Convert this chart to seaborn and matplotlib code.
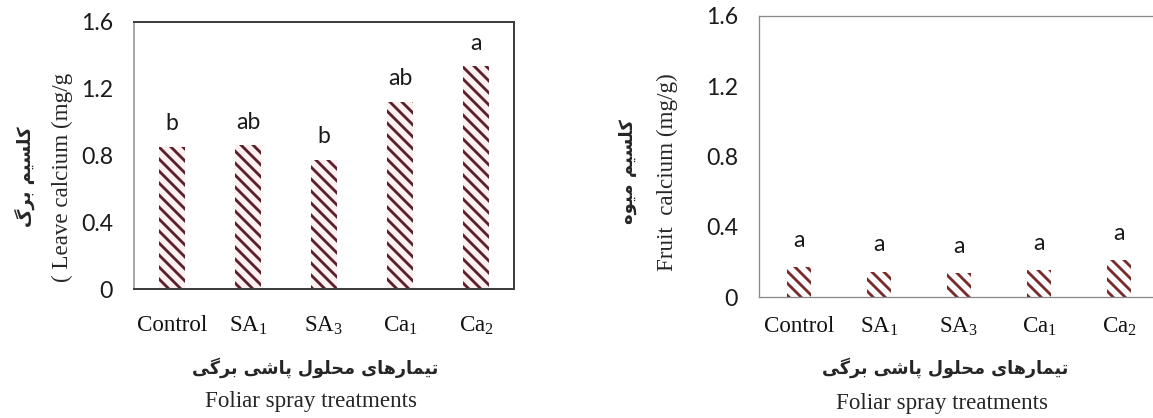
# Leaf and fruit calcium under foliar spray treatments (two bar panels)
import matplotlib
matplotlib.use("Agg")
import matplotlib.pyplot as plt
import seaborn as sns
import pandas as pd

# data
treatments = ["Control", "SA1", "SA3", "Ca1", "Ca2"]
tick_labels = ["Control", "SA$_1$", "SA$_3$", "Ca$_1$", "Ca$_2$"]
leaf_ca = [0.85, 0.86, 0.775, 1.12, 1.335]
leaf_letters = ["b", "ab", "b", "ab", "a"]
fruit_ca = [0.17, 0.145, 0.138, 0.152, 0.21]
fruit_letters = ["a", "a", "a", "a", "a"]
y_ticks = [0, 0.4, 0.8, 1.2, 1.6]
y_tick_labels = ["0", "0.4", "0.8", "1.2", "1.6"]

# Persian text, written as shaped presentation forms in visual order
# (matplotlib does no Arabic shaping / bidi by itself)
leaf_fa = "\uFB92\uFEAE\uFE91 \uFEE2\uFBFF\uFEB4\uFEE0\uFB90"          # کلسیم برگ
fruit_fa = "\uFEE9\uFEEE\uFBFF\uFEE3 \uFEE2\uFBFF\uFEB4\uFEE0\uFB90"   # کلسیم میوه
treat_fa = ("\uFBFD\uFB94\uFEAE\uFE91 \uFBFD\uFEB7\uFE8E\uFB58 "
            "\uFEDD\uFEEE\uFEE0\uFEA4\uFEE3 "
            "\uFBFC\uFE8E\uFEEB\uFEAD\uFE8E\uFEE4\uFBFF\uFE97")          # تیمارهای محلول پاشی برگی
treat_en = "Foliar spray treatments"

sns.set_style("white")
plt.rcParams["font.family"] = ["Lato", "DejaVu Sans"]
plt.rcParams["mathtext.fontset"] = "custom"
plt.rcParams["mathtext.rm"] = "Liberation Serif"
plt.rcParams["mathtext.it"] = "Liberation Serif:italic"
plt.rcParams["hatch.linewidth"] = 2.8

W, H = 1153, 418
fig = plt.figure(figsize=(W / 72, H / 72), dpi=72)


def fx(x):
    return x / W


def fy(y):
    return 1 - y / H


ax1 = fig.add_axes([fx(134), fy(289), 380 / W, 267 / H])
ax2 = fig.add_axes([fx(759), fy(297), 400 / W, 281 / H])


def draw(ax, vals, letters, hatch_col, face, width, off, pad_x):
    df = pd.DataFrame({"treatment": treatments, "value": vals})
    sns.barplot(data=df, x="treatment", y="value", ax=ax, color=face,
                width=width, saturation=1, errorbar=None)
    for p in ax.patches:
        p.set_facecolor(face)
        p.set_hatch("\\\\")
        p.set_edgecolor(hatch_col)
        p.set_linewidth(0)
    for i, (v, t) in enumerate(zip(vals, letters)):
        ax.text(i, v + off, t, ha="center", va="baseline", fontsize=23,
                color="#1a1a1a")
    ax.set_ylim(0, 1.6)
    ax.set_xlim(-0.5, 4.5)
    ax.set_yticks(y_ticks)
    ax.set_yticklabels(y_tick_labels)
    ax.set_xticks(range(len(treatments)))
    ax.set_xticklabels(tick_labels, family="Liberation Serif", fontsize=23)
    ax.set_xlabel("")
    ax.set_ylabel("")
    ax.tick_params(axis="y", length=9, width=1.3, color="#8c8c8c",
                   direction="out", pad=12, labelsize=23, labelcolor="#1a1a1a")
    ax.tick_params(axis="x", length=0, pad=pad_x, labelcolor="#111111")


draw(ax1, leaf_ca, leaf_letters, "#5a1f2b", "#fdf0f0", 0.33, 0.1, 26)
draw(ax2, fruit_ca, fruit_letters, "#7a2a2a", "white", 0.31, 0.115, 19)

for s in ["top", "right", "bottom"]:
    ax1.spines[s].set_color("#3f3f3f")
    ax1.spines[s].set_linewidth(2)
ax1.spines["left"].set_color("#8c8c8c")
ax1.spines["left"].set_linewidth(1.5)
for s in ax2.spines.values():
    s.set_color("#8a8a8a")
    s.set_linewidth(1.3)

# axis titles
fig.text(fx(25), fy(177), leaf_fa, rotation=90, ha="center", va="center",
         family="DejaVu Sans", weight="bold", fontsize=18)
fig.text(fx(62), fy(177), "( Leave calcium (mg/g", rotation=90, ha="center",
         va="center", family="Liberation Serif", fontsize=23)
fig.text(fx(628), fy(172), fruit_fa, rotation=90, ha="center", va="center",
         family="DejaVu Sans", weight="bold", fontsize=18)
fig.text(fx(667), fy(172), "Fruit  calcium (mg/g)", rotation=90, ha="center",
         va="center", family="Liberation Serif", fontsize=23)

fig.text(fx(315), fy(368), treat_fa, ha="center", va="center",
         family="DejaVu Sans", weight="bold", fontsize=17.5)
fig.text(fx(311), fy(402), treat_en, ha="center", va="center",
         family="Liberation Serif", fontsize=23)
fig.text(fx(945), fy(368), treat_fa, ha="center", va="center",
         family="DejaVu Sans", weight="bold", fontsize=17.5)
fig.text(fx(942), fy(403), treat_en, ha="center", va="center",
         family="Liberation Serif", fontsize=23)

fig.savefig("out.png", dpi=72, facecolor="white")
